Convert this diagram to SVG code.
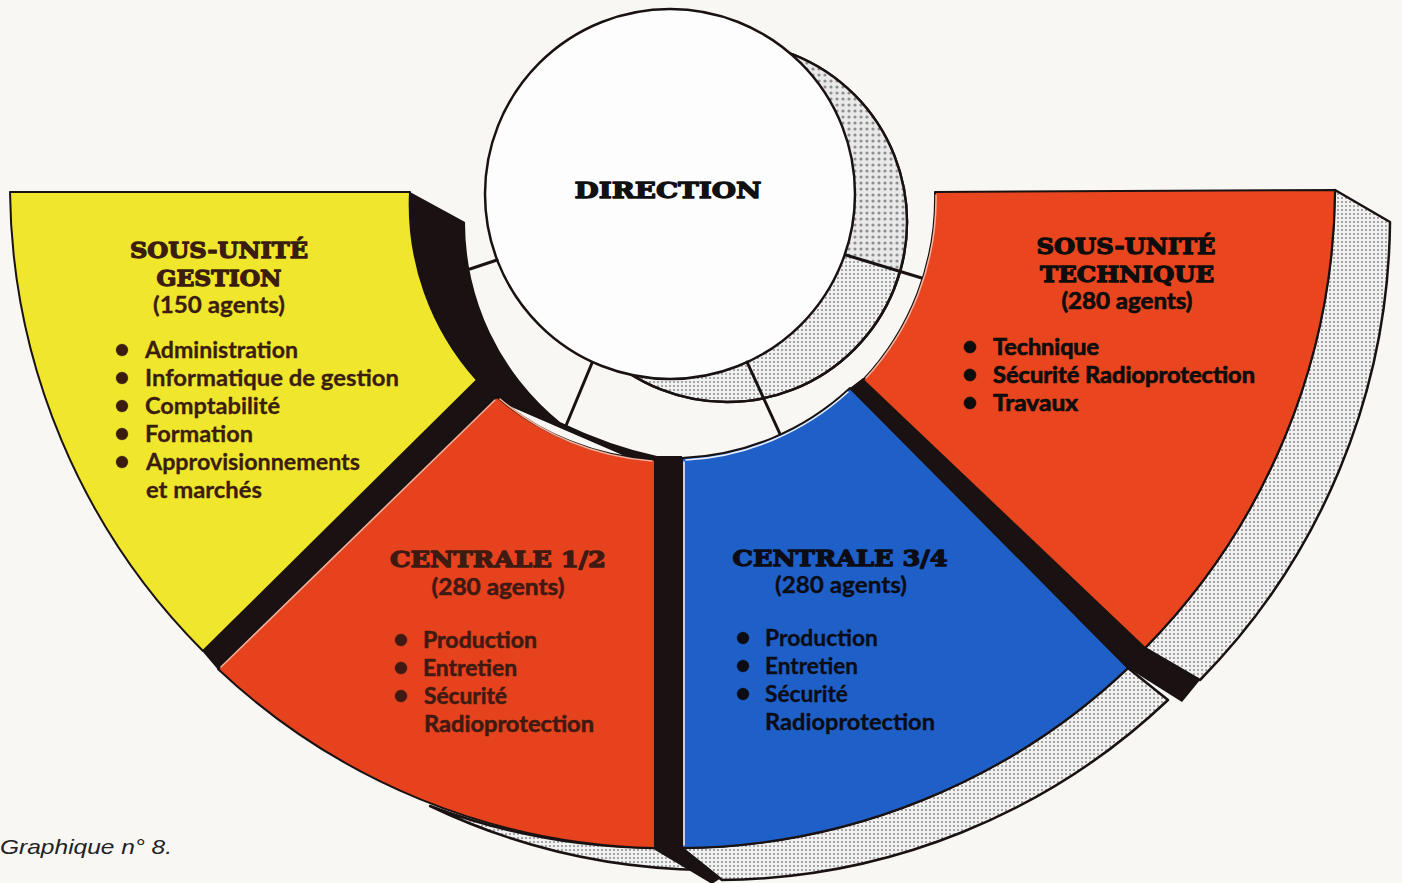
<svg xmlns="http://www.w3.org/2000/svg" width="1402" height="883" viewBox="0 0 1402 883">
<defs>
<pattern id="fine" width="4" height="4" patternUnits="userSpaceOnUse"><rect width="4" height="4" fill="#f1f1f1"/><circle cx="2" cy="2" r="1" fill="#8c8c8c"/></pattern>
<pattern id="coarse" width="6" height="6" patternUnits="userSpaceOnUse"><rect width="6" height="6" fill="#e9e9e9"/><circle cx="3" cy="3" r="1.6" fill="#8f8f8f"/></pattern>
<clipPath id="topcut"><polygon points="690,-20 1000,-20 1000,302.5 690,207.7"/></clipPath>
<style>
.title{font-family:"DejaVu Serif","Liberation Serif",serif;font-weight:900;font-size:22px;stroke-width:1.3;stroke-linejoin:round}
.body{font-family:Lato,"Noto Sans","Liberation Sans",sans-serif;font-weight:bold;font-size:22px}
.blk{fill:#1a1212}
.face{stroke:#1a1212;stroke-width:2;stroke-linejoin:round}
.band{stroke:#1a1212;stroke-width:2.5;stroke-linejoin:round}
.ring{stroke:#1a1212;stroke-width:3;fill:none;stroke-linecap:round}
.hl{fill:none;stroke-width:1.6;stroke-linecap:round}
</style>
</defs>
<rect width="1402" height="883" fill="#f8f7f4"/>

<g id="direction">
<circle cx="727" cy="222" r="180" fill="url(#fine)" class="band"/>
<circle cx="727" cy="222" r="180" fill="url(#coarse)" clip-path="url(#topcut)"/>
<circle cx="727" cy="222" r="180" fill="none" class="band"/>
<circle cx="670" cy="194" r="185" fill="#fdfdfd" class="band"/>
<text x="668" y="198" class="title" font-size="27" text-anchor="middle" textLength="187" lengthAdjust="spacingAndGlyphs" fill="#111" stroke="#111">DIRECTION</text>
</g>

<g id="connectors">
<line x1="470" y1="269" x2="497" y2="260" class="ring"/>
<line x1="592" y1="363" x2="565" y2="428" class="ring"/>
<line x1="747" y1="362" x2="780" y2="434" class="ring"/>
<line x1="846" y1="255" x2="925" y2="279" class="ring"/>
</g>

<g id="gestion">
<path class="blk" d="M410,192 L465,222 A257 257 0 0 0 560,422 Q610,446 657,456 L657,470 L500,402 L220,672 L203,652 Z"/>
<path class="face" fill="#f0e72c" d="M10,192 L410,192 A262 262 0 0 0 477,380 L203,651 A660 660 0 0 1 10,192 Z"/>
<text x="219" y="258" class="title" text-anchor="middle" textLength="178" lengthAdjust="spacingAndGlyphs" fill="#3b1d10" stroke="#3b1d10">SOUS-UNITÉ</text>
<text x="219" y="286" class="title" text-anchor="middle" textLength="125" lengthAdjust="spacingAndGlyphs" fill="#3b1d10" stroke="#3b1d10">GESTION</text>
<g class="body" fill="#3b1d10" stroke="#3b1d10" stroke-width="0.3">
<text x="219" y="313" text-anchor="middle" textLength="132" lengthAdjust="spacingAndGlyphs">(150 agents)</text>
<circle cx="122" cy="350" r="6"/><text x="145" y="358" textLength="153" lengthAdjust="spacingAndGlyphs">Administration</text>
<circle cx="122" cy="378" r="6"/><text x="145" y="386" textLength="254" lengthAdjust="spacingAndGlyphs">Informatique de gestion</text>
<circle cx="122" cy="406" r="6"/><text x="145" y="414" textLength="135" lengthAdjust="spacingAndGlyphs">Comptabilité</text>
<circle cx="122" cy="434" r="6"/><text x="145" y="442" textLength="108" lengthAdjust="spacingAndGlyphs">Formation</text>
<circle cx="122" cy="462" r="6"/><text x="146" y="470" textLength="214" lengthAdjust="spacingAndGlyphs">Approvisionnements</text>
<text x="146" y="498" textLength="116" lengthAdjust="spacingAndGlyphs">et marchés</text>
</g>
</g>

<g id="centrale12">
<path fill="url(#fine)" class="band" d="M430,806 A657 657 0 0 0 705,870 L655,848 A657 657 0 0 1 430,806 Z"/>
<path class="blk" d="M655,456 L682,456 L682,848 L727,874 L712,884 L655,850 Z"/>
<path class="face" fill="#e5421d" d="M497,397 L218,669 A657 657 0 0 0 655,848 L655,460 A265 265 0 0 1 497,397 Z"/>
<path class="hl" stroke="#f4b09a" d="M495,400 L221,667 M500,399 A265 265 0 0 0 652,461"/>
<text x="498" y="567" class="title" text-anchor="middle" textLength="216" lengthAdjust="spacingAndGlyphs" fill="#3e1a12" stroke="#3e1a12">CENTRALE 1/2</text>
<g class="body" fill="#3e1a12" stroke="#3e1a12" stroke-width="0.5">
<text x="498" y="595" text-anchor="middle" textLength="133" lengthAdjust="spacingAndGlyphs">(280 agents)</text>
<circle cx="401" cy="640" r="6"/><text x="423" y="648" textLength="114" lengthAdjust="spacingAndGlyphs">Production</text>
<circle cx="401" cy="668" r="6"/><text x="423" y="676" textLength="94" lengthAdjust="spacingAndGlyphs">Entretien</text>
<circle cx="401" cy="696" r="6"/><text x="424" y="704" textLength="83" lengthAdjust="spacingAndGlyphs">Sécurité</text>
<text x="424" y="732" textLength="170" lengthAdjust="spacingAndGlyphs">Radioprotection</text>
</g>
</g>

<g id="centrale34">
<path fill="url(#fine)" class="band" d="M682,848 L722,880 A657 657 0 0 0 1168,700 L1128,668 A657 657 0 0 1 682,848 Z"/>
<path class="blk" d="M850,388 L863,378 L1145,648 L1200,680 L1182,702 L1128,668 Z"/>
<path class="face" fill="#1f60c8" d="M682,458 L682,848 A657 657 0 0 0 1128,668 L850,388 A262 262 0 0 1 682,458 Z"/>
<path class="hl" stroke="#e8eef8" d="M684,462 L684,845 M848,392 A262 262 0 0 1 686,460"/>
<text x="840" y="566" class="title" text-anchor="middle" textLength="215" lengthAdjust="spacingAndGlyphs" fill="#0c0c14" stroke="#0c0c14">CENTRALE 3/4</text>
<g class="body" fill="#0c0c14" stroke="#0c0c14" stroke-width="0.3">
<text x="841" y="593" text-anchor="middle" textLength="132" lengthAdjust="spacingAndGlyphs">(280 agents)</text>
<circle cx="743" cy="638" r="6"/><text x="765" y="646" textLength="113" lengthAdjust="spacingAndGlyphs">Production</text>
<circle cx="743" cy="666" r="6"/><text x="765" y="674" textLength="93" lengthAdjust="spacingAndGlyphs">Entretien</text>
<circle cx="743" cy="694" r="6"/><text x="765" y="702" textLength="83" lengthAdjust="spacingAndGlyphs">Sécurité</text>
<text x="765" y="730" textLength="170" lengthAdjust="spacingAndGlyphs">Radioprotection</text>
</g>
</g>

<g id="technique">
<path fill="url(#fine)" class="band" d="M1335,190 L1390,222 A661 661 0 0 1 1200,680 L1145,648 A661 661 0 0 0 1335,190 Z"/>
<path class="face" fill="#e9461f" d="M935,192 L1335,190 A661 661 0 0 1 1145,648 L863,380 A265 265 0 0 0 935,192 Z"/>
<path class="hl" stroke="#f4b09a" d="M866,378 A265 265 0 0 0 936,195"/>
<text x="1126" y="254" class="title" text-anchor="middle" textLength="179" lengthAdjust="spacingAndGlyphs" fill="#0d0d0d" stroke="#0d0d0d">SOUS-UNITÉ</text>
<text x="1127" y="282" class="title" text-anchor="middle" textLength="174" lengthAdjust="spacingAndGlyphs" fill="#0d0d0d" stroke="#0d0d0d">TECHNIQUE</text>
<g class="body" fill="#0d0d0d" stroke="#0d0d0d" stroke-width="0.7">
<text x="1127" y="309" text-anchor="middle" textLength="131" lengthAdjust="spacingAndGlyphs">(280 agents)</text>
<circle cx="970" cy="347" r="6"/><text x="993" y="355" textLength="106" lengthAdjust="spacingAndGlyphs">Technique</text>
<circle cx="970" cy="375" r="6"/><text x="993" y="383" textLength="262" lengthAdjust="spacingAndGlyphs">Sécurité Radioprotection</text>
<circle cx="970" cy="403" r="6"/><text x="993" y="411" textLength="85" lengthAdjust="spacingAndGlyphs">Travaux</text>
</g>
</g>

<text x="0" y="854" font-family="'Liberation Sans',Arial,sans-serif" font-style="italic" font-size="21" textLength="172" lengthAdjust="spacingAndGlyphs" fill="#222">Graphique n° 8.</text>
</svg>
